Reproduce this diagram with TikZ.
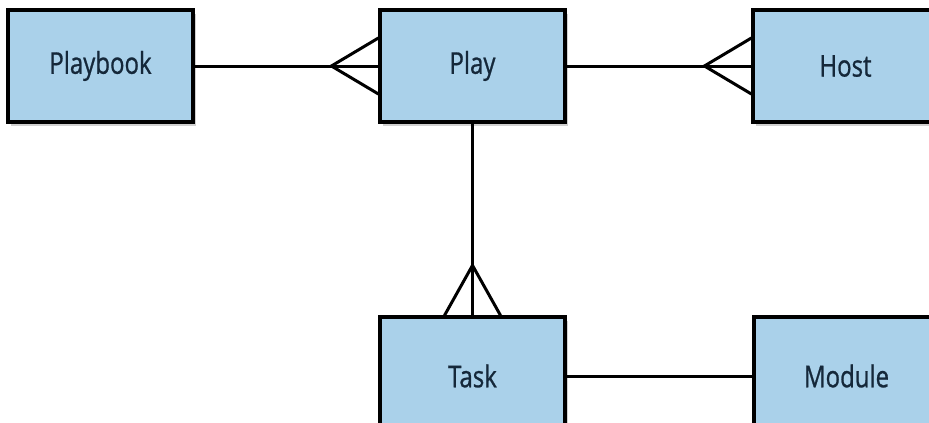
\documentclass[tikz,border=0pt]{standalone}
\usepackage{fontspec}
\setmainfont{Open Sans}[FakeStretch=0.8, FakeBold=0.8]
\usetikzlibrary{shadows,calc}
\definecolor{boxblue}{HTML}{AAD1EA}
\definecolor{txt}{HTML}{15283A}
\begin{document}
\begin{tikzpicture}[x=1pt,y=-1pt,
  entity/.style={draw=black, line width=3.2pt, fill=boxblue, rectangle,
    minimum width=185pt, minimum height=112pt, inner sep=0pt,
    text=txt, font=\fontsize{30}{34}\selectfont,
    drop shadow={shadow xshift=3pt, shadow yshift=-4pt, opacity=0.3, fill=black!60}},
  link/.style={line width=3pt, line join=miter}]
\clip (0,0) rectangle (929,423);
\fill[white] (0,0) rectangle (929,423);
\node[entity] (playbook) at (100.5,66) {Playbook};
\node[entity] (play) at (472.5,66) {Play};
\node[entity] (host) at (845.5,66) {Host};
\node[entity, minimum height=118pt] (task) at (472.5,376) {Task};
\node[entity, minimum height=118pt] (module) at (846.5,376) {Module};
% Playbook - Play (many)
\draw[link] (playbook.east) -- (play.west);
\draw[link] ($(play.west)+(0,-28)$) -- ($(play.west)+(-47,0)$) -- ($(play.west)+(0,28)$);
% Play - Host (many)
\draw[link] (play.east) -- (host.west);
\draw[link] ($(host.west)+(0,-28)$) -- ($(host.west)+(-47,0)$) -- ($(host.west)+(0,28)$);
% Play - Task (many)
\draw[link] (play.south) -- (task.north);
\draw[link] ($(task.north)+(-28,0)$) -- ($(task.north)+(0,-50)$) -- ($(task.north)+(28,0)$);
% Task - Module
\draw[link] (task.east) -- (module.west);
\end{tikzpicture}
\end{document}
